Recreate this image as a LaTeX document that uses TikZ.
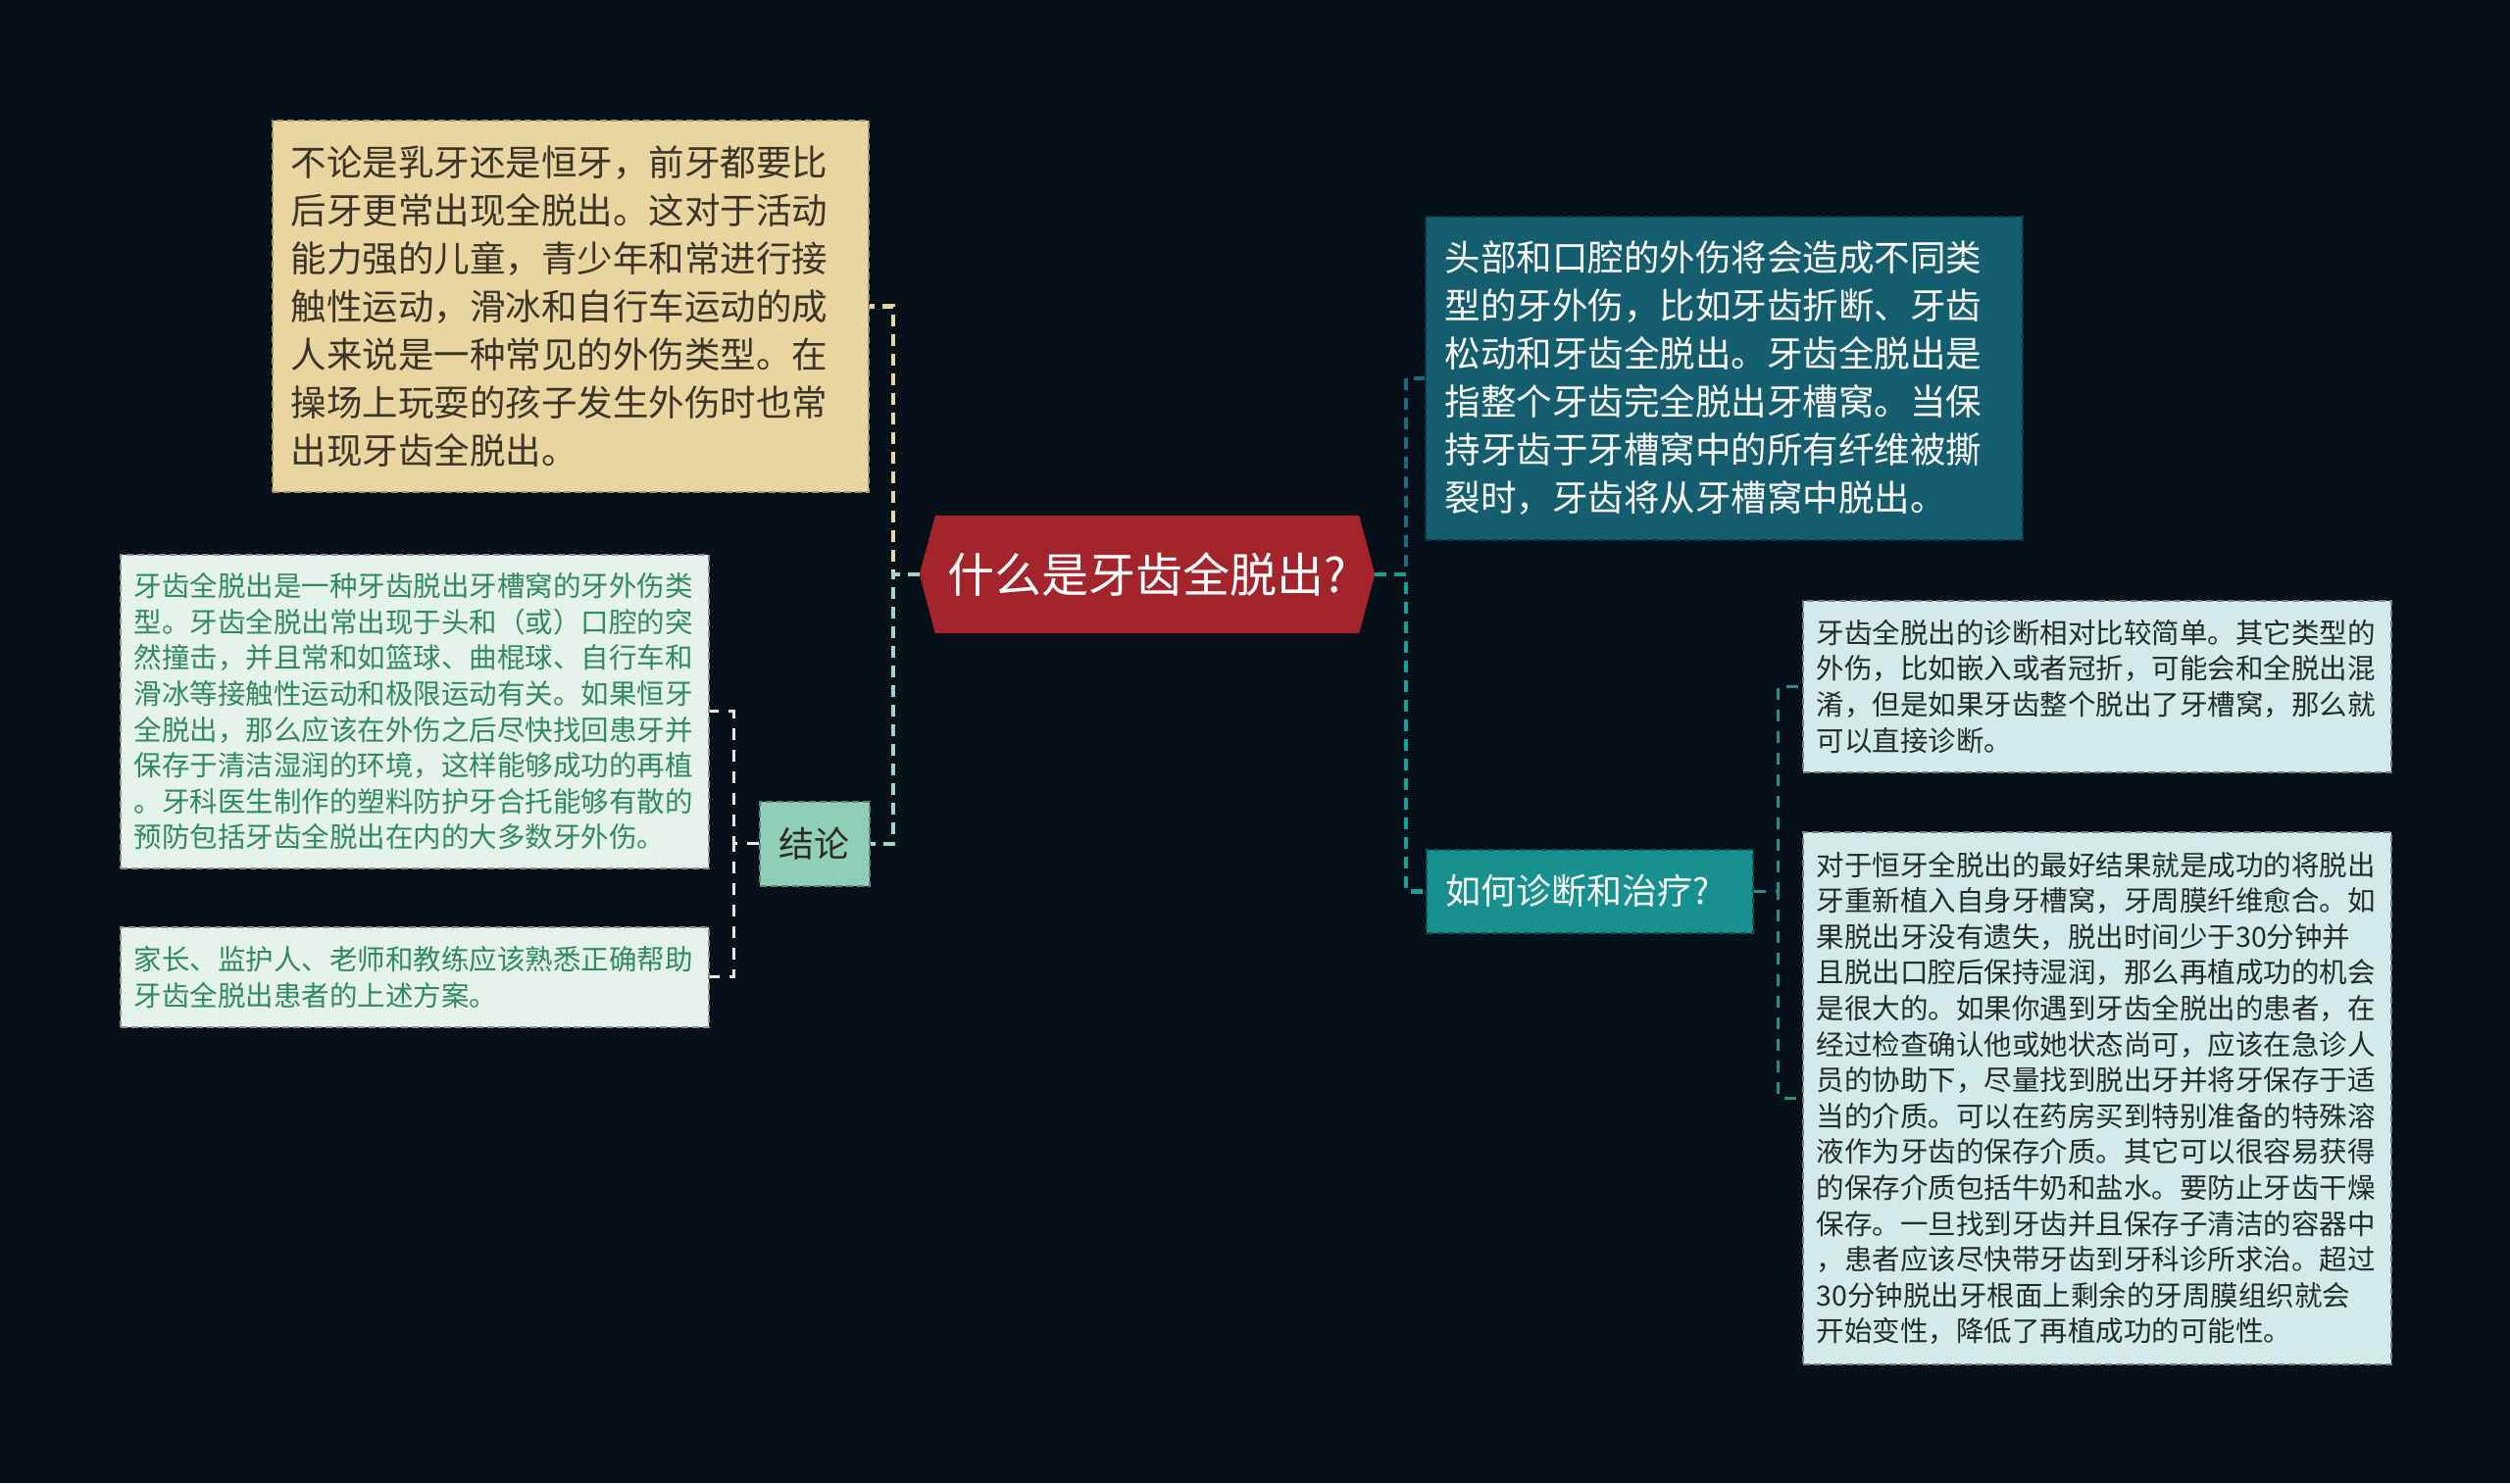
\documentclass[tikz,border=0pt]{standalone}
\usepackage{fontspec}
\setmainfont{Noto Sans CJK SC}
\usetikzlibrary{backgrounds,calc}
\definecolor{bgc}{HTML}{061018}
\definecolor{rootc}{HTML}{A3242B}
\definecolor{beige}{HTML}{E8D5A0}
\definecolor{beigetxt}{HTML}{3B3428}
\definecolor{tealdark}{HTML}{155E70}
\definecolor{tealmid}{HTML}{18908F}
\definecolor{mint}{HTML}{8FCFB8}
\definecolor{mintline}{HTML}{9FD8C4}
\definecolor{lgreen}{HTML}{E6F3EC}
\definecolor{lgreentxt}{HTML}{2F8A5C}
\definecolor{lcyan}{HTML}{D3EAEB}
\definecolor{lcyantxt}{HTML}{222A2C}
\definecolor{childmint}{HTML}{DDEFE7}
\definecolor{childteal}{HTML}{2A8C8E}
\definecolor{edgedark}{HTML}{1B6A80}
\definecolor{edgemid}{HTML}{1A9C9C}
\tikzset{
  boxbase/.style={rectangle, anchor=north west, inner ysep=0pt, align=left, dashed, dash pattern=on 7pt off 4pt, line width=1.6pt},
  bigtext/.style={font=\fontsize{36.5pt}{49pt}\selectfont},
  smalltext/.style={font=\fontsize{28.5pt}{36.6pt}\selectfont},
  thickedge/.style={line width=4.5pt, dash pattern=on 12pt off 8pt},
  thinedge/.style={line width=3pt, dash pattern=on 12pt off 10pt},
}
\begin{document}
\begin{tikzpicture}[x=1pt,y=-1pt]
\useasboundingbox (0,0) rectangle (2560,1513);

% root
\node (root) [minimum width=464, minimum height=120, inner sep=0pt, text=white,
  font=\fontsize{48pt}{56pt}\selectfont] at (1170,586) {什么是牙齿全脱出?};
\begin{scope}[on background layer]
\fill[bgc] (0,0) rectangle (2560,1513);
\fill[rootc] ($(root.north west)+(16,0)$) -- ($(root.north east)+(-16,0)$) -- (root.east)
  -- ($(root.south east)+(-16,0)$) -- ($(root.south west)+(16,0)$) -- (root.west) -- cycle;
\end{scope}

% left side
\node (beigebox) [boxbase, bigtext, fill=beige, draw=beige!70!black, text=beigetxt,
  minimum width=608, minimum height=379, inner xsep=19pt, text width=570pt] at (277,122)
{不论是乳牙还是恒牙，前牙都要比\\
后牙更常出现全脱出。这对于活动\\
能力强的儿童，青少年和常进行接\\
触性运动，滑冰和自行车运动的成\\
人来说是一种常见的外伤类型。在\\
操场上玩耍的孩子发生外伤时也常\\
出现牙齿全脱出。};

\node (concl) [boxbase, fill=mint, draw=mint!65!black, text=beigetxt!80!black,
  font=\fontsize{36pt}{44pt}\selectfont, align=center,
  minimum width=112, minimum height=86, inner xsep=0pt] at (774,817) {结论};

\node (green1) [boxbase, smalltext, fill=lgreen, draw=lgreen!60!black, text=lgreentxt,
  minimum width=600, minimum height=320, inner xsep=14pt, text width=572pt] at (122,565)
{牙齿全脱出是一种牙齿脱出牙槽窝的牙外伤类\\
型。牙齿全脱出常出现于头和（或）口腔的突\\
然撞击，并且常和如篮球、曲棍球、自行车和\\
滑冰等接触性运动和极限运动有关。如果恒牙\\
全脱出，那么应该在外伤之后尽快找回患牙并\\
保存于清洁湿润的环境，这样能够成功的再植\\
。牙科医生制作的塑料防护牙合托能够有散的\\
预防包括牙齿全脱出在内的大多数牙外伤。};

\node (green2) [boxbase, smalltext, fill=lgreen, draw=lgreen!60!black, text=lgreentxt,
  minimum width=600, minimum height=102, inner xsep=14pt, text width=572pt] at (122,945)
{家长、监护人、老师和教练应该熟悉正确帮助\\
牙齿全脱出患者的上述方案。};

% right side
\node (tealbox) [boxbase, bigtext, fill=tealdark, draw=tealdark!60!black, text=white,
  minimum width=609, minimum height=330, inner xsep=20pt, text width=569pt] at (1453,220)
{头部和口腔的外伤将会造成不同类\\
型的牙外伤，比如牙齿折断、牙齿\\
松动和牙齿全脱出。牙齿全脱出是\\
指整个牙齿完全脱出牙槽窝。当保\\
持牙齿于牙槽窝中的所有纤维被撕\\
裂时，牙齿将从牙槽窝中脱出。};

\node (howbox) [boxbase, fill=tealmid, draw=tealmid!60!black, text=white,
  font=\fontsize{36pt}{44pt}\selectfont, align=left,
  minimum width=333, minimum height=85, inner xsep=20pt, text width=293pt] at (1454,866) {如何诊断和治疗?};

\node (cyanA) [boxbase, smalltext, fill=lcyan, draw=lcyan!55!black, text=lcyantxt,
  minimum width=600, minimum height=175, inner xsep=14pt, text width=572pt] at (1838,612)
{牙齿全脱出的诊断相对比较简单。其它类型的\\
外伤，比如嵌入或者冠折，可能会和全脱出混\\
淆，但是如果牙齿整个脱出了牙槽窝，那么就\\
可以直接诊断。};

\node (cyanB) [boxbase, smalltext, fill=lcyan, draw=lcyan!55!black, text=lcyantxt,
  minimum width=600, minimum height=543, inner xsep=14pt, text width=572pt] at (1838,848)
{对于恒牙全脱出的最好结果就是成功的将脱出\\
牙重新植入自身牙槽窝，牙周膜纤维愈合。如\\
果脱出牙没有遗失，脱出时间少于30分钟并\\
且脱出口腔后保持湿润，那么再植成功的机会\\
是很大的。如果你遇到牙齿全脱出的患者，在\\
经过检查确认他或她状态尚可，应该在急诊人\\
员的协助下，尽量找到脱出牙并将牙保存于适\\
当的介质。可以在药房买到特别准备的特殊溶\\
液作为牙齿的保存介质。其它可以很容易获得\\
的保存介质包括牛奶和盐水。要防止牙齿干燥\\
保存。一旦找到牙齿并且保存子清洁的容器中\\
，患者应该尽快带牙齿到牙科诊所求治。超过\\
30分钟脱出牙根面上剩余的牙周膜组织就会\\
开始变性，降低了再植成功的可能性。};

% connectors
\draw[thickedge, beige] (root.west) -- ++(-27,0) |- (beigebox.east);
\draw[thickedge, mintline] (root.west) -- ++(-27,0) |- (concl.east);
\draw[thinedge, childmint] (concl.west) -- ++(-26,0) |- (green1.east);
\draw[thinedge, childmint] (concl.west) -- ++(-26,0) |- (green2.east);

\draw[thickedge, edgedark] (root.east) -- ++(32,0) |- (tealbox.west);
\draw[thickedge, edgemid] (root.east) -- ++(32,0) |- (howbox.west);
\draw[thinedge, childteal] (howbox.east) -- ++(25,0) |- (cyanA.west);
\draw[thinedge, childteal] (howbox.east) -- ++(25,0) |- (cyanB.west);
\end{tikzpicture}
\end{document}
